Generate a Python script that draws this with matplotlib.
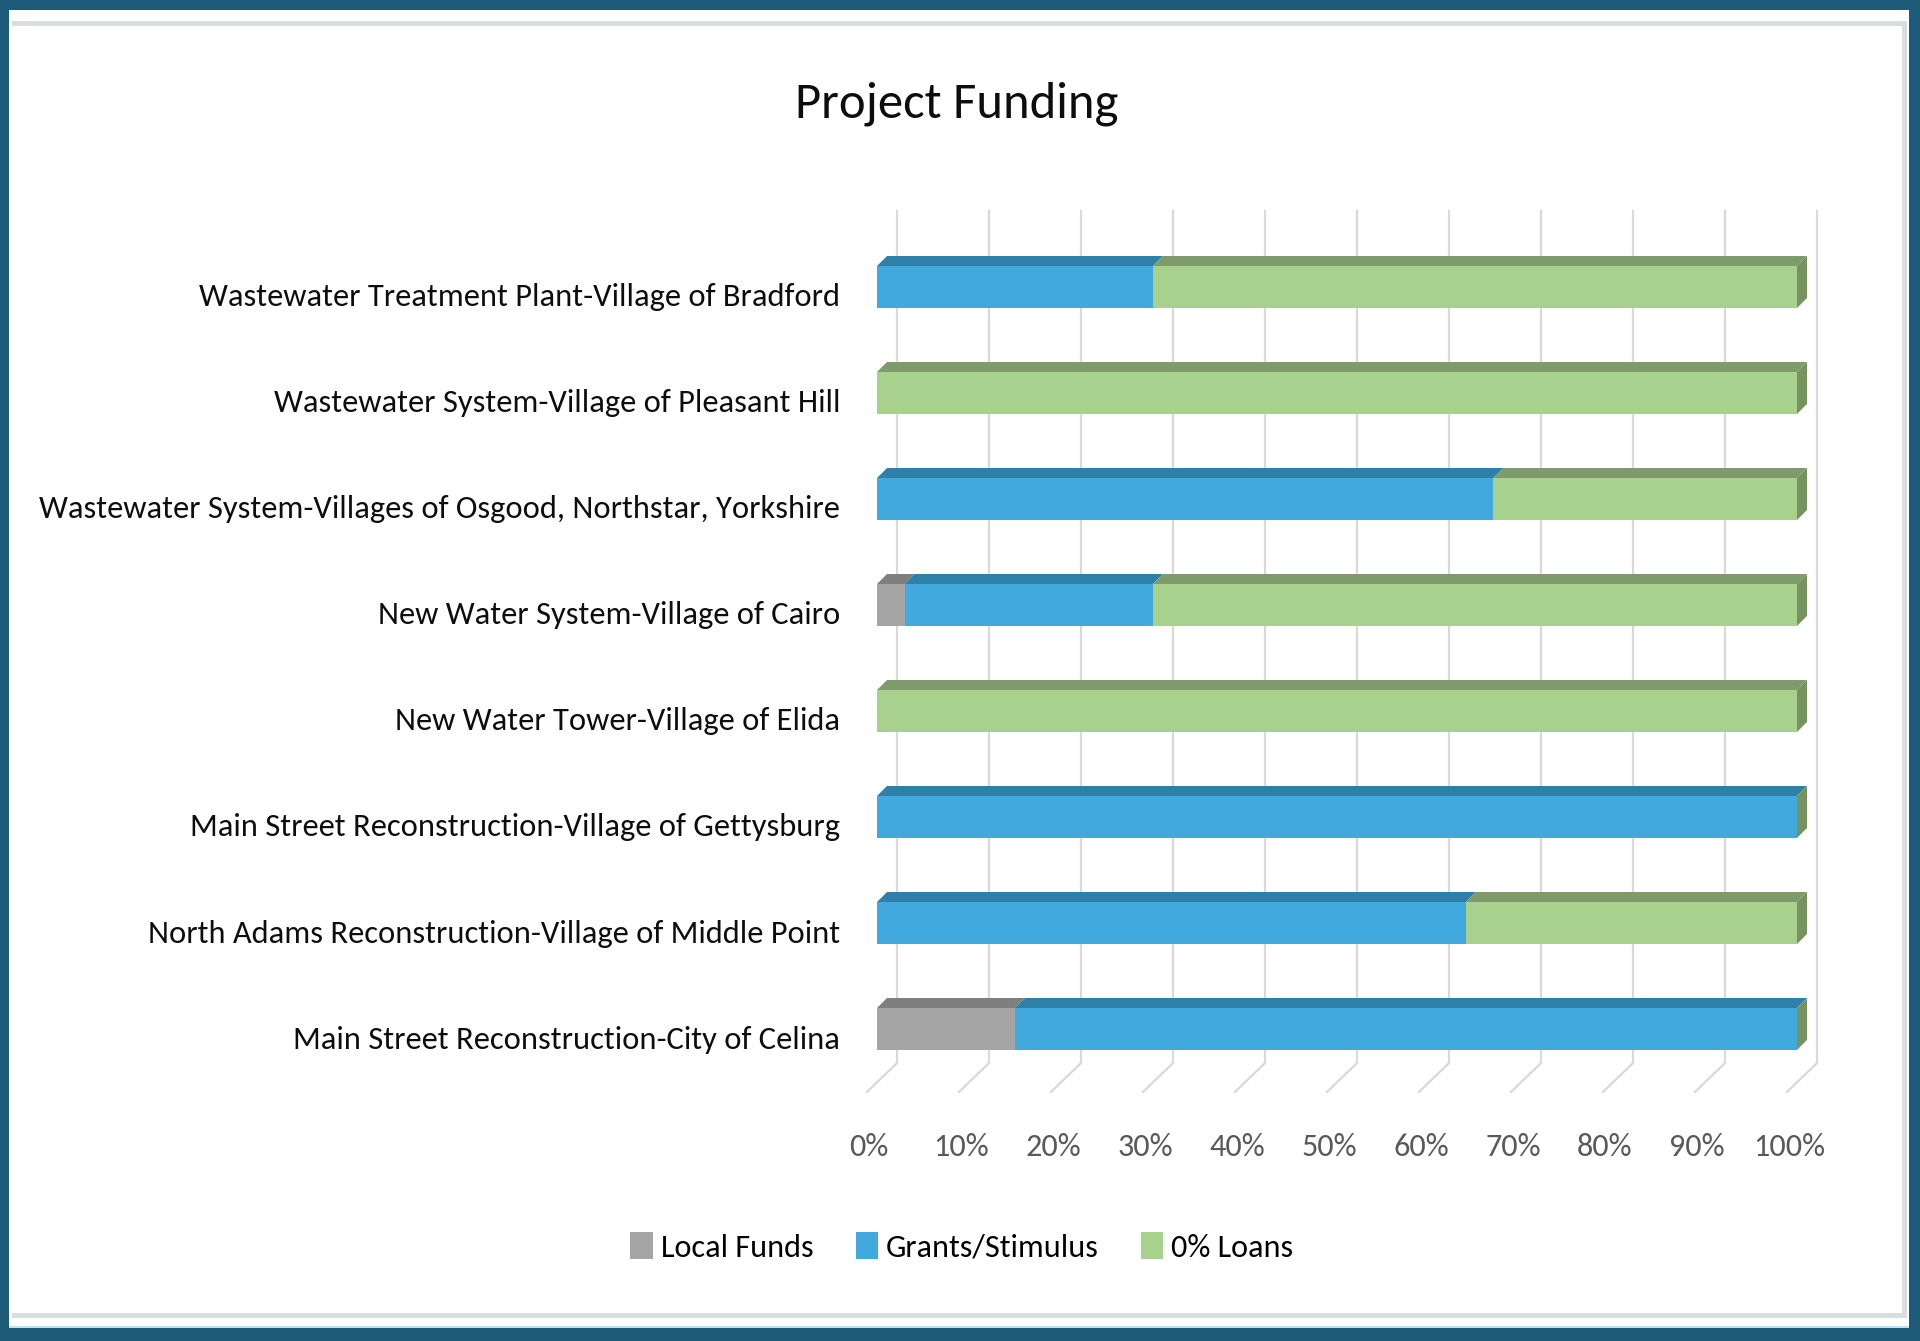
import matplotlib
matplotlib.use('Agg')
import matplotlib.pyplot as plt
import matplotlib.transforms as mtrans
from matplotlib.patches import Polygon, Rectangle, Patch
from matplotlib.textpath import TextPath
from matplotlib.font_manager import FontProperties
import numpy as np

plt.rcParams['font.family'] = ['Carlito', 'DejaVu Sans']

# data (bottom row first)
projects = ['Main Street Reconstruction-City of Celina',
            'North Adams Reconstruction-Village of Middle Point',
            'Main Street Reconstruction-Village of Gettysburg',
            'New Water Tower-Village of Elida',
            'New Water System-Village of Cairo',
            'Wastewater System-Villages of Osgood, Northstar, Yorkshire',
            'Wastewater System-Village of Pleasant Hill',
            'Wastewater Treatment Plant-Village of Bradford']
local_funds = [15, 0, 0, 0, 3, 0, 0, 0]
grants = [85, 64, 100, 0, 27, 67, 0, 30]
loans = [0, 36, 0, 100, 70, 33, 100, 70]
series_names = ['Local Funds', 'Grants/Stimulus', '0% Loans']
ticks = [0, 10, 20, 30, 40, 50, 60, 70, 80, 90, 100]

front = ['#A5A5A5', '#42A9DE', '#A8D18D']
top = ['#7F7F7F', '#2F80A8', '#809B6B']
side = '#76925F'

W, H = 1920, 1341
DPI = 100


def fit_size(s, target_px):
    # font size (pt) so that string s is about target_px wide
    w = TextPath((0, 0), s, size=10, prop=FontProperties(family='Carlito')).get_extents().width
    return 10 * target_px / (w * DPI / 72)


label_fs = fit_size(projects[5], 798)
tick_fs = fit_size('100%', 68)
title_fs = fit_size('Project Funding', 318)
legend_fs = fit_size('Grants/Stimulus', 210)

fig = plt.figure(figsize=(W / DPI, H / DPI), dpi=DPI)


def frame_rect(x, y, w, h, color, z):
    # rectangle given in pixels from the top-left corner
    fig.patches.append(Rectangle((x / W, 1 - (y + h) / H), w / W, h / H, transform=fig.transFigure,
                                 facecolor=color, edgecolor='none', zorder=z))


# frame
frame_rect(0, 0, W, H, '#1D5B79', -3)
frame_rect(9, 10, 1900, 1318, 'white', -2)
frame_rect(12, 21, 1893, 5, '#D9DDE0', -1)
frame_rect(12, 1313, 1893, 5, '#D9DDE0', -1)
frame_rect(1902, 21, 5, 1297, '#D9DDE0', -1)
frame_rect(9, 1326, 1900, 2, '#BFE3F0', -1)

# axes: x=0 at 877px, x=100 at 1797px; row 0 at 1029px from top, spacing 106px
pxx = 9.2
pxy = 106.0
x0, x1 = -4, 110
y0, y1 = -0.906, 8.0
left = 877 + x0 * pxx
bottom = (H - 1029) + y0 * pxy
ax = fig.add_axes([left / W, bottom / H, (x1 - x0) * pxx / W, (y1 - y0) * pxy / H])
ax.set_xlim(x0, x1)
ax.set_ylim(y0, y1)
ax.patch.set_alpha(0)
for s in ax.spines.values():
    s.set_visible(False)

# back wall gridlines and floor
gdx = 20 / pxx
ybot = -0.32
ytop = 7.717
for v in ticks:
    ax.plot([v + gdx, v + gdx], [ybot, ytop], color='#D9D9D9', lw=1.6, zorder=1)
    ax.plot([v + gdx, v - 10 / pxx], [ybot, ybot - 29 / pxy], color='#D9D9D9', lw=1.6, zorder=1)

# 3d bars
ys = np.arange(len(projects))
h = 42 / pxy
dx = 10 / pxx
dy = 10 / pxy
lefts = np.zeros(len(projects))
for k, vals in enumerate([local_funds, grants, loans]):
    vals = np.array(vals, dtype=float)
    ax.barh(ys, vals, left=lefts, height=h, color=front[k], edgecolor='none', zorder=3)
    for y, l, w in zip(ys, lefts, vals):
        if w > 0:
            ax.add_patch(Polygon([(l, y + h / 2), (l + w, y + h / 2),
                                  (l + w + dx, y + h / 2 + dy), (l + dx, y + h / 2 + dy)],
                                 closed=True, facecolor=top[k], edgecolor='none', zorder=2))
    lefts = lefts + vals
for y, r in zip(ys, lefts):
    ax.add_patch(Polygon([(r, y - h / 2), (r, y + h / 2), (r + dx, y + h / 2 + dy), (r + dx, y - h / 2 + dy)],
                         closed=True, facecolor=side, edgecolor='none', zorder=2))

# category labels
ax.set_yticks(ys)
ax.set_yticklabels(projects, fontsize=label_fs, color='#0D0D0D')
ax.tick_params(axis='y', length=0, pad=0)
for lab in ax.get_yticklabels():
    lab.set_transform(lab.get_transform() + mtrans.ScaledTranslation(0, -8 / DPI, fig.dpi_scale_trans))

# percent labels
ax.set_xticks(ticks)
ax.set_xticklabels([f'{t}%' for t in ticks], fontsize=tick_fs, color='#595959')
ax.tick_params(axis='x', length=0, pad=6)
for lab in ax.get_xticklabels():
    lab.set_transform(lab.get_transform() + mtrans.ScaledTranslation(-8 / DPI, 0, fig.dpi_scale_trans))

fig.text(957 / W, 1 - 104 / H, 'Project Funding', fontsize=title_fs, color='#0D0D0D',
         ha='center', va='center')

handles = [Patch(facecolor=c, edgecolor='none') for c in front]
fig.legend(handles, series_names, loc='center', bbox_to_anchor=(962 / W, 1 - 1247 / H),
           ncol=3, frameon=False, fontsize=legend_fs, handlelength=0.7, handleheight=0.9,
           handletextpad=0.25, columnspacing=1.3)

fig.savefig('out.png', dpi=DPI)
